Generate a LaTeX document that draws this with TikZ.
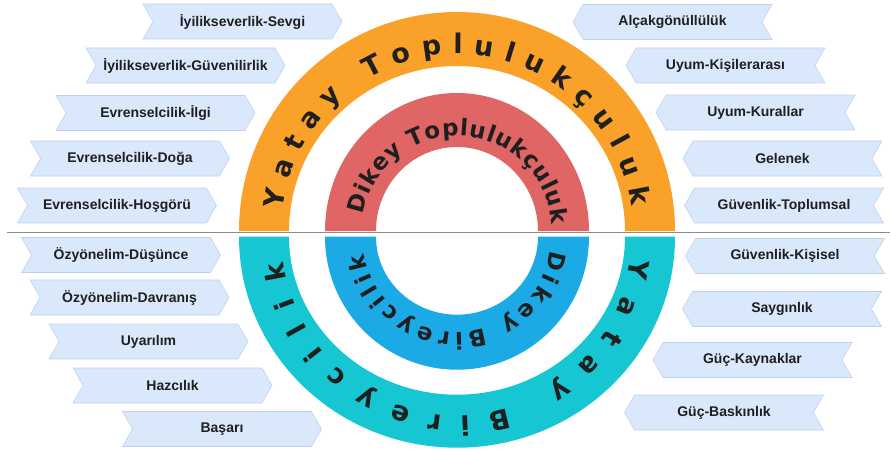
\documentclass[tikz,border=0pt]{standalone}
\usepackage{fontspec}
\setmainfont{Liberation Sans}
\newfontfamily\ringfamily{DejaVu Sans}
\usetikzlibrary{
  decorations.text,
  shapes.symbols
}
\definecolor{ink}{HTML}{1F1F1F}
\definecolor{divider}{HTML}{8C8C8C}
\definecolor{ringorange}{HTML}{F9A128}
\definecolor{ringred}{HTML}{E06666}
\definecolor{ringteal}{HTML}{17C6D3}
\definecolor{ringblue}{HTML}{1BAAE6}
\definecolor{tagfill}{HTML}{DAE8FC}
\definecolor{tagline}{HTML}{BED2F0}
\newcommand{\outerarc}{\ringfamily\bfseries\fontsize{27}{32}\selectfont}
\newcommand{\innerarc}{\ringfamily\bfseries\fontsize{23}{27}\selectfont}
\tikzset{
  tag/.style={
    signal,
    signal pointer angle=120,
    draw=tagline,
    fill=tagfill,
    line width=0.6pt,
    minimum width=199pt,
    minimum height=35pt,
    inner sep=0pt,
    font=\bfseries\fontsize{14}{16}\selectfont,
    text=ink
  },
  tagleft/.style={
    tag,
    signal from=west,
    signal to=east
  },
  tagright/.style={
    tag,
    signal from=east,
    signal to=west
  },
  arctext/.style={
    decorate,
    decoration={
      text along path,
      text align={fit to path},
      text color=ink
    }
  }
}

\begin{document}
\begin{tikzpicture}[x=1pt, y=1pt]
  \useasboundingbox (0,0) rectangle (892,451);
  \coordinate (top) at (457,220);
  \coordinate (bot) at (457,214.3);

  % Upper half.
  \fill[ringorange] (top) ++(218,0)
    arc[start angle=0, end angle=180, x radius=218, y radius=219]
    -- ++(50,0)
    arc[start angle=180, end angle=0, x radius=168, y radius=165] -- cycle;
  \fill[ringred] (top) ++(132,0)
    arc[start angle=0, end angle=180, x radius=132, y radius=138]
    -- ++(51,0)
    arc[start angle=180, end angle=0, x radius=81, y radius=84] -- cycle;
  \path[arctext, decoration={text={|\outerarc|Yatay Toplulukçuluk}}]
    (top) ++(173:176 and 177)
    arc[start angle=173, end angle=8, x radius=176, y radius=177];
  \path[arctext, decoration={text={|\innerarc|Dikey Toplulukçuluk}}]
    (top) ++(170:95 and 95)
    arc[start angle=170, end angle=4, x radius=95, y radius=95];

  % Lower half.
  \fill[ringteal] (bot) ++(218,0)
    arc[start angle=0, end angle=-180, x radius=218, y radius=211]
    -- ++(50,0)
    arc[start angle=-180, end angle=0, x radius=168, y radius=158] -- cycle;
  \fill[ringblue] (bot) ++(132,0)
    arc[start angle=0, end angle=-180, x radius=132, y radius=133]
    -- ++(51,0)
    arc[start angle=-180, end angle=0, x radius=81, y radius=78] -- cycle;
  \path[arctext, decoration={text={|\outerarc|Yatay Bireycilik}}]
    (bot) ++(-7:175 and 179)
    arc[start angle=-7, end angle=-172, x radius=175, y radius=179];
  \path[arctext, decoration={text={|\innerarc|Dikey Bireycilik}}]
    (bot) ++(-8:94 and 96)
    arc[start angle=-8, end angle=-170, x radius=94, y radius=96];

  % Divider.
  \coordinate (divl) at (7,218.7);
  \coordinate (divr) at (890,218.7);
  \draw[divider, line width=1.2pt] (divl) -- (divr);

  % Left tags.
  \node[tagleft] (sevgi) at (242.5,429.5) {İyilikseverlik-Sevgi};
  \node[tagleft] (guvenilirlik) at (185.5,385.5) {İyilikseverlik-Güvenilirlik};
  \node[tagleft] (ilgi) at (155.5,338) {Evrenselcilik-İlgi};
  \node[tagleft] (doga) at (130,292.5) {Evrenselcilik-Doğa};
  \node[tagleft] (hosgoru) at (117,245.5) {Evrenselcilik-Hoşgörü};
  \node[tagleft] (dusunce) at (121,196) {Özyönelim-Düşünce};
  \node[tagleft] (davranis) at (129.5,153.5) {Özyönelim-Davranış};
  \node[tagleft] (uyarilim) at (148.5,109.5) {Uyarılım};
  \node[tagleft] (hazcilik) at (172.5,65.5) {Hazcılık};
  \node[tagleft] (basari) at (222,22) {Başarı};

  % Right tags.
  \node[tagright] (alcak) at (672.5,429) {Alçakgönüllülük};
  \node[tagright] (kisiler) at (725.5,385.5) {Uyum-Kişilerarası};
  \node[tagright] (kurallar) at (755.5,338.5) {Uyum-Kurallar};
  \node[tagright] (gelenek) at (782.5,292.5) {Gelenek};
  \node[tagright] (toplumsal) at (784,245.5) {Güvenlik-Toplumsal};
  \node[tagright] (kisisel) at (785,195) {Güvenlik-Kişisel};
  \node[tagright] (saygi) at (782,142) {Saygınlık};
  \node[tagright] (kaynak) at (752.5,91) {Güç-Kaynaklar};
  \node[tagright] (baskin) at (724,38.5) {Güç-Baskınlık};
\end{tikzpicture}
\end{document}
